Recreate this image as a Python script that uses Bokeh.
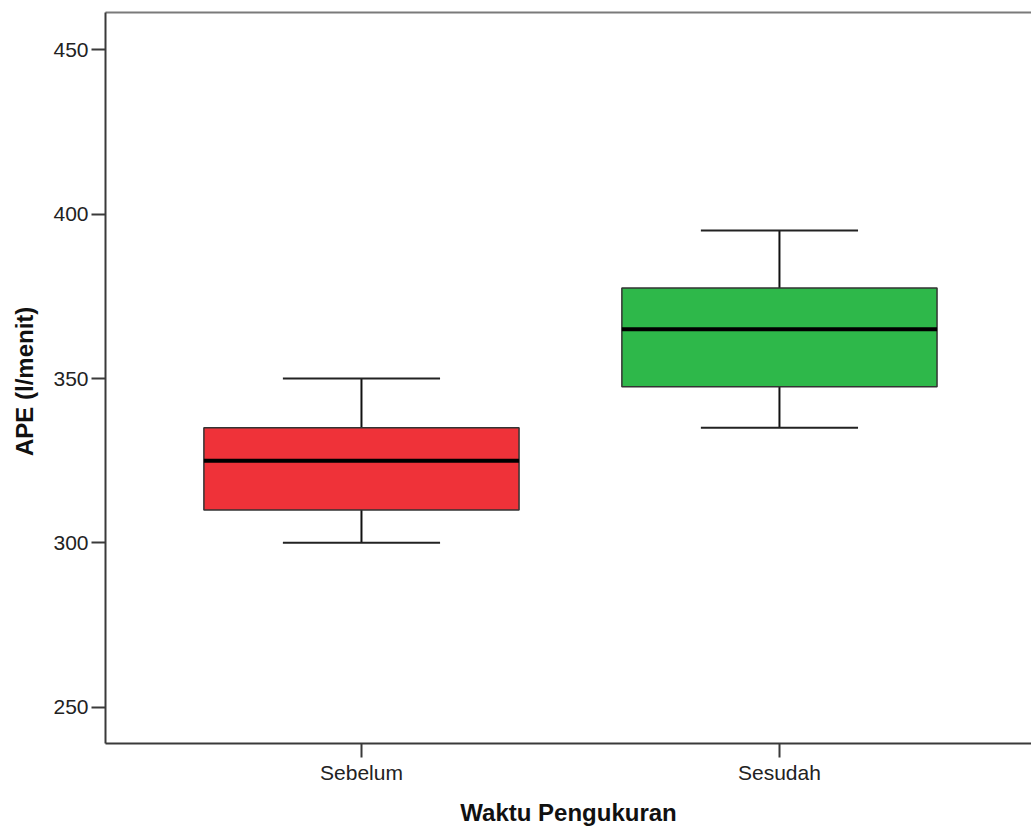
from bokeh.plotting import figure
from bokeh.models import ColumnDataSource, Range1d, FixedTicker, LinearAxis
from bokeh.embed import file_html
from bokeh.resources import INLINE

categories = ["Sebelum", "Sesudah"]
lower = [300, 335]
q1 = [310, 347.5]
median = [325, 365]
q3 = [335, 377.5]
upper = [350, 395]
colors = ["#ef3239", "#2eb84a"]
y_ticks = [250, 300, 350, 400, 450]

pos = [i + 1 for i in range(len(categories))]
box_w = 0.754
cap_w = 0.376

src = ColumnDataSource(dict(
    x=pos, lower=lower, q1=q1, median=median, q3=q3, upper=upper, color=colors,
    bl=[p - box_w / 2 for p in pos], br=[p + box_w / 2 for p in pos],
    cl=[p - cap_w / 2 for p in pos], cr=[p + cap_w / 2 for p in pos],
))

p = figure(width=1031, height=828, output_backend="svg", toolbar_location=None,
           x_range=Range1d(0.3876, 2.603), y_range=Range1d(238.96, 461.35),
           min_border_left=105, min_border_right=0, min_border_top=12, min_border_bottom=85)
p.outline_line_color = None
p.grid.visible = False
p.background_fill_color = "white"
p.border_fill_color = "white"

# whiskers
p.segment(x0="x", y0="q3", x1="x", y1="upper", source=src, line_color="#111111", line_width=2)
p.segment(x0="x", y0="lower", x1="x", y1="q1", source=src, line_color="#111111", line_width=2)
p.segment(x0="cl", y0="upper", x1="cr", y1="upper", source=src, line_color="#222222", line_width=2)
p.segment(x0="cl", y0="lower", x1="cr", y1="lower", source=src, line_color="#222222", line_width=2)
# boxes
p.vbar(x="x", width=box_w, top="q3", bottom="q1", source=src, fill_color="color",
       line_color="#333333", line_width=1.5)
# medians
p.segment(x0="bl", y0="median", x1="br", y1="median", source=src, line_color="black", line_width=4)

font = "Liberation Sans"
for ax in (p.xaxis[0], p.yaxis[0]):
    ax.axis_line_color = "#3a3a3a"
    ax.axis_line_width = 2
    ax.major_tick_line_color = "#3a3a3a"
    ax.major_tick_line_width = 2
    ax.major_tick_out = 14
    ax.major_tick_in = 0
    ax.minor_tick_line_color = None
    ax.major_label_text_font = font
    ax.major_label_text_font_size = "21px"
    ax.major_label_text_color = "#222222"
    ax.axis_label_text_font = font
    ax.axis_label_text_font_style = "bold"
    ax.axis_label_text_font_size = "24px"
    ax.axis_label_text_color = "#111111"

p.xaxis[0].ticker = FixedTicker(ticks=pos)
p.xaxis[0].major_label_overrides = {pp: c for pp, c in zip(pos, categories)}
p.xaxis[0].axis_label = "Waktu Pengukuran"
p.xaxis[0].major_label_standoff = 3
p.xaxis[0].axis_label_standoff = 12

p.yaxis[0].ticker = FixedTicker(ticks=y_ticks)
p.yaxis[0].axis_label = "APE  (l/menit)"
p.yaxis[0].major_label_standoff = 3
p.yaxis[0].axis_label_standoff = 12

top_axis = LinearAxis(ticker=FixedTicker(ticks=[]), axis_line_color="#7a7a7a", axis_line_width=2,
                      major_tick_line_color=None, minor_tick_line_color=None,
                      major_label_text_font_size="0px")
p.add_layout(top_axis, "above")

open("out.html", "w").write(file_html(p, INLINE))
